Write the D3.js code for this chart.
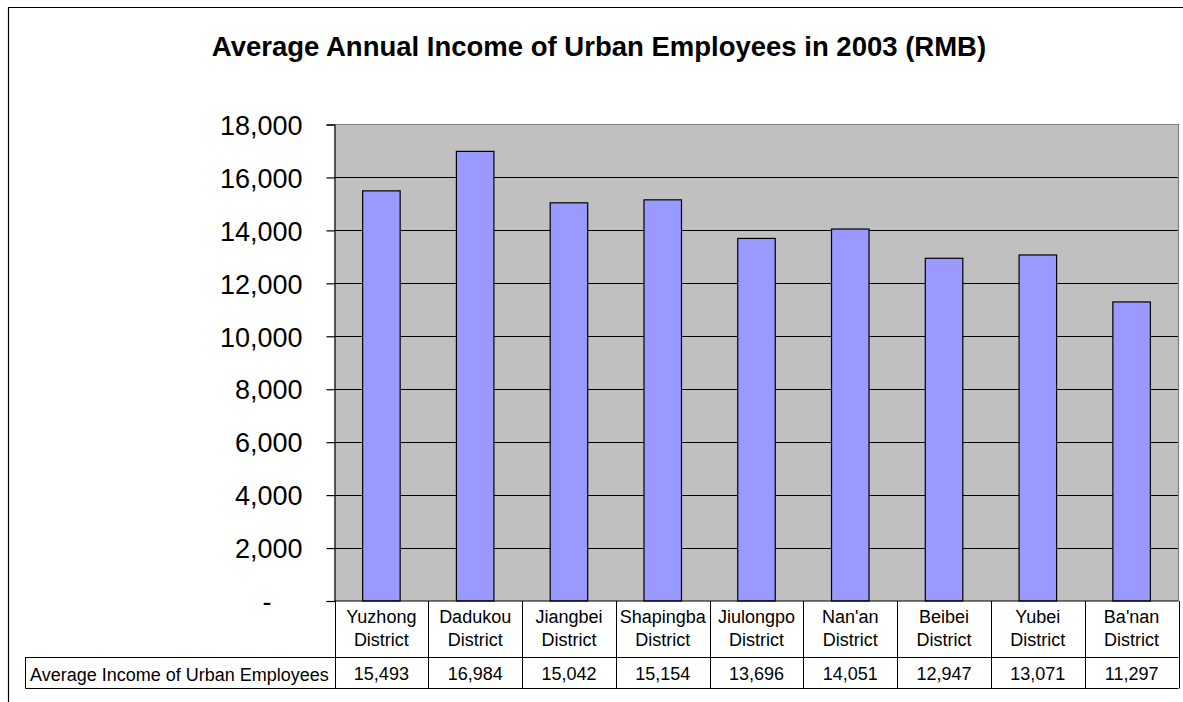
<!DOCTYPE html>
<html>
<head>
<meta charset="utf-8">
<script src="https://cdn.jsdelivr.net/npm/d3@7"></script>
<style>
  html, body { margin: 0; padding: 0; background: #fff; }
  svg { display: block; font-family: "Liberation Sans", Arial, sans-serif; }
</style>
</head>
<body>
<svg id="chart" width="1183" height="702"></svg>
<script>
// Chart data
const titleText = "Average Annual Income of Urban Employees in 2003 (RMB)";
const seriesName = "Average Income of Urban Employees";
const districts = ["Yuzhong", "Dadukou", "Jiangbei", "Shapingba", "Jiulongpo", "Nan'an", "Beibei", "Yubei", "Ba'nan"];
const districtSuffix = "District";
const incomes = [15493, 16984, 15042, 15154, 13696, 14051, 12947, 13071, 11297];
const yTicks = [0, 2000, 4000, 6000, 8000, 10000, 12000, 14000, 16000, 18000];
const yTickLabels = ["-", "2,000", "4,000", "6,000", "8,000", "10,000", "12,000", "14,000", "16,000", "18,000"];

const svg = d3.select("#chart");

// Layout
const plot = { left: 334.5, right: 1178.5, top: 124.5, bottom: 601 };
const table = { legendLeft: 25.5, row1Bottom: 657, row2Bottom: 688.5 };

// Outer chart frame (top and left edges visible)
svg.append("path")
  .attr("d", "M8.5,702 L8.5,7.5 L1183,7.5")
  .attr("fill", "none").attr("stroke", "#000").attr("stroke-width", 1.2);

// Title
svg.append("text")
  .attr("x", 599).attr("y", 55.5)
  .attr("text-anchor", "middle")
  .attr("font-size", 27.5).attr("font-weight", "bold")
  .text(titleText);

// Scales
const y = d3.scaleLinear().domain([0, 18000]).range([plot.bottom, plot.top]);
const cols = d3.scaleBand().domain(districts).range([plot.left, plot.right]).padding(0);
const bars = d3.scaleBand().domain(districts).range([plot.left, plot.right])
  .paddingInner(0.6).paddingOuter(0.3);

// Plot background
svg.append("rect")
  .attr("x", plot.left).attr("y", plot.top)
  .attr("width", plot.right - plot.left).attr("height", plot.bottom - plot.top)
  .attr("fill", "#C0C0C0");

// Gridlines
svg.append("g").selectAll("line")
  .data(yTicks.filter(t => t > 0 && t < 18000))
  .join("line")
  .attr("x1", plot.left).attr("x2", plot.right)
  .attr("y1", d => Math.round(y(d)) + 0.5).attr("y2", d => Math.round(y(d)) + 0.5)
  .attr("stroke", "#000").attr("stroke-width", 1);

// Plot border top/right in gray
svg.append("path")
  .attr("d", `M${plot.left},${plot.top} L${plot.right},${plot.top} L${plot.right},${plot.bottom}`)
  .attr("fill", "none").attr("stroke", "#808080").attr("stroke-width", 1.2);

// Bars
svg.append("g").selectAll("rect")
  .data(districts.map((d, i) => ({ d, v: incomes[i] })))
  .join("rect")
  .attr("x", d => bars(d.d))
  .attr("y", d => y(d.v))
  .attr("width", bars.bandwidth())
  .attr("height", d => y(0) - y(d.v))
  .attr("fill", "#9999FF")
  .attr("stroke", "#000").attr("stroke-width", 1.2);

// Y axis
const yAxis = d3.axisLeft(y)
  .tickValues(yTicks)
  .tickSize(8)
  .tickPadding(24)
  .tickFormat((d, i) => yTickLabels[i]);
const yg = svg.append("g")
  .attr("transform", `translate(${plot.left},0)`)
  .call(yAxis);
yg.select(".domain").attr("stroke", "#000").attr("stroke-width", 1.2);
yg.selectAll(".tick line").attr("stroke", "#000").attr("stroke-width", 1.2);
yg.selectAll(".tick text")
  .attr("font-size", 27).attr("font-family", "\"Liberation Sans\", Arial, sans-serif")
  .attr("fill", "#000")
  .attr("dy", "0.36em")
  .attr("dx", (d) => d === 0 ? -31 : 0);

// Data table below the plot
const tg = svg.append("g");
// Horizontal rules
tg.append("line")
  .attr("x1", table.legendLeft).attr("x2", plot.right)
  .attr("y1", table.row1Bottom + 0.5).attr("y2", table.row1Bottom + 0.5)
  .attr("stroke", "#000");
tg.append("line")
  .attr("x1", table.legendLeft).attr("x2", plot.right)
  .attr("y1", table.row2Bottom).attr("y2", table.row2Bottom)
  .attr("stroke", "#000");
// Legend cell left edge
tg.append("line")
  .attr("x1", table.legendLeft).attr("x2", table.legendLeft)
  .attr("y1", table.row1Bottom).attr("y2", table.row2Bottom)
  .attr("stroke", "#000");
// Column separators
const colEdges = districts.map(d => cols(d)).concat([plot.right]);
tg.selectAll("line.col")
  .data(colEdges)
  .join("line").attr("class", "col")
  .attr("x1", d => Math.round(d) + 0.5).attr("x2", d => Math.round(d) + 0.5)
  .attr("y1", plot.bottom).attr("y2", table.row2Bottom)
  .attr("stroke", "#000").attr("stroke-width", 1);
// X axis line
tg.append("line")
  .attr("x1", plot.left).attr("x2", plot.right)
  .attr("y1", plot.bottom).attr("y2", plot.bottom)
  .attr("stroke", "#000").attr("stroke-width", 1.2);

// Category labels (two lines)
const catText = tg.selectAll("text.cat")
  .data(districts)
  .join("text").attr("class", "cat")
  .attr("text-anchor", "middle")
  .attr("font-size", 18)
  .attr("fill", "#000");
catText.append("tspan")
  .attr("x", d => cols(d) + cols.bandwidth() / 2).attr("y", 623)
  .text(d => d);
catText.append("tspan")
  .attr("x", d => cols(d) + cols.bandwidth() / 2).attr("y", 646)
  .text(districtSuffix);

// Values row
const fmt = d3.format(",");
tg.selectAll("text.val")
  .data(districts.map((d, i) => ({ d, v: incomes[i] })))
  .join("text").attr("class", "val")
  .attr("x", d => cols(d.d) + cols.bandwidth() / 2)
  .attr("y", 680)
  .attr("text-anchor", "middle")
  .attr("font-size", 18)
  .text(d => fmt(d.v));

// Series name in legend cell
tg.append("text")
  .attr("x", 30).attr("y", 680.5)
  .attr("font-size", 18)
  .text(seriesName);
</script>
</body>
</html>
